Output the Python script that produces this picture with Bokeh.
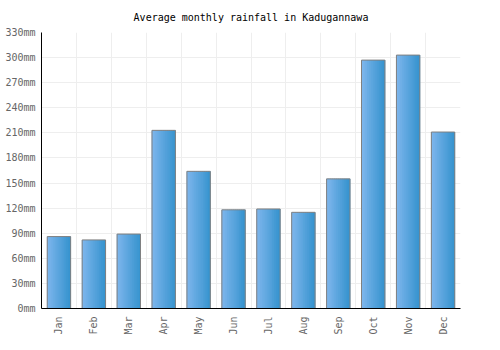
import math
from bokeh.plotting import figure
from bokeh.models import ColumnDataSource, FixedTicker, PrintfTickFormatter, Range1d
from bokeh.transform import dodge
from bokeh.embed import file_html
from bokeh.resources import INLINE

months = ["Jan", "Feb", "Mar", "Apr", "May", "Jun", "Jul", "Aug", "Sep", "Oct", "Nov", "Dec"]
rainfall = [86, 82, 89, 213, 164, 118, 119, 115, 155, 297, 303, 211]
y_ticks = [0, 30, 60, 90, 120, 150, 180, 210, 240, 270, 300, 330]

FONT = "DejaVu Sans Mono"
pos = [i + 0.5 for i in range(len(months))]
src = ColumnDataSource(dict(x=pos, top=rainfall, month=months))

p = figure(frame_width=419, frame_height=276, output_backend="svg", toolbar_location=None,
           x_range=Range1d(0, 12), y_range=Range1d(0, 330),
           min_border_left=41, min_border_right=40, min_border_bottom=42, min_border_top=0)
p.outline_line_color = None
p.title.text = "Average monthly rainfall in Kadugannawa"
p.title.align = "center"
p.title.text_font = FONT
p.title.text_font_size = "10px"
p.title.text_font_style = "normal"
p.title.text_color = "#000000"
p.title.standoff = 19

# gradient bars as thin slices
n = 12
bw = 0.67
c0 = (124, 181, 236)
c1 = (56, 148, 207)
for k in range(n):
    t = k / (n - 1)
    col = "#%02x%02x%02x" % tuple(int(round(a + (b - a) * t)) for a, b in zip(c0, c1))
    off = -bw / 2 + (k + 0.5) * bw / n
    p.vbar(x=dodge("x", off), top="top", bottom=0, width=bw / n + 0.02, source=src,
           fill_color=col, line_color=None)
p.vbar(x="x", top="top", bottom=0, width=bw, source=src, fill_color=None,
       line_color="#808080", line_width=1)

p.xaxis.ticker = FixedTicker(ticks=pos)
p.xaxis.major_label_overrides = {pv: m for pv, m in zip(pos, months)}
p.xaxis.major_label_orientation = math.pi / 2
p.yaxis.ticker = FixedTicker(ticks=y_ticks)
p.yaxis.formatter = PrintfTickFormatter(format="%dmm")
for ax in (p.xaxis, p.yaxis):
    ax.major_tick_line_color = None
    ax.minor_tick_line_color = None
    ax.major_tick_out = 0
    ax.major_tick_in = 0
    ax.minor_tick_out = 0
    ax.minor_tick_in = 0
    ax.axis_line_color = "#000000"
    ax.axis_line_width = 1
    ax.major_label_text_font = FONT
    ax.major_label_text_font_size = "10px"
    ax.major_label_text_color = "#666666"
p.yaxis.major_label_standoff = 6
p.xaxis.major_label_standoff = 8
p.xgrid.ticker = FixedTicker(ticks=list(range(13)))
p.xgrid.grid_line_color = "#eeeeee"
p.ygrid.grid_line_color = "#eeeeee"

open("out.html", "w").write(file_html(p, INLINE))
